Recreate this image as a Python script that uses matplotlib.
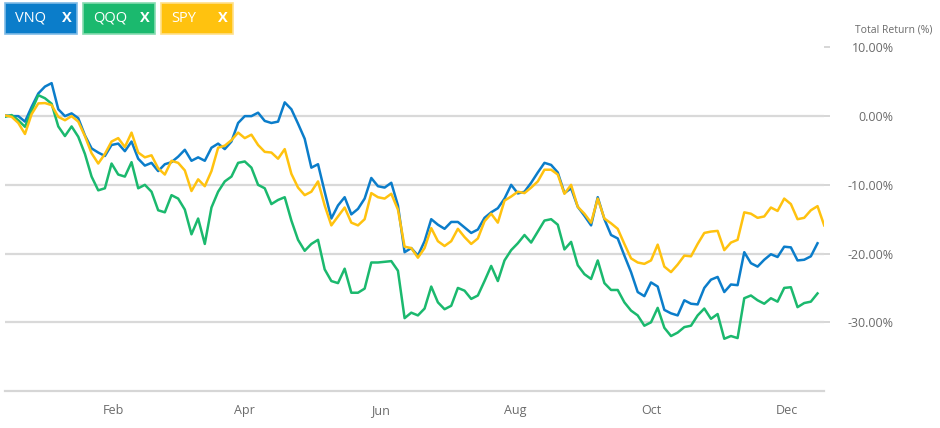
import matplotlib
matplotlib.use("Agg")
import matplotlib.pyplot as plt
from matplotlib.patches import Rectangle
import pandas as pd

# ---------------- data ----------------
start_date = "2021-12-14"
step = "3D"

vnq = [0.1, 0.0, 0.0, -0.8, 1.35, 3.3, 4.3, 4.8, 1.0, 0.0,
       0.4, -0.3, -2.8, -4.7, -5.3, -5.8, -4.2, -4.0, -5.1, -3.7,
       -6.2, -7.2, -6.8, -8.0, -7.0, -6.7, -5.9, -4.9, -6.5, -6.0,
       -6.5, -4.6, -4.0, -4.8, -3.7, -1.0, 0.0, 0.0, 0.5, -0.7,
       -1.0, -0.8, 2.0, 1.0, -1.1, -3.3, -7.5, -7.0, -11.0, -14.9,
       -13.0, -11.8, -14.3, -13.5, -12.0, -9.0, -10.2, -10.4, -9.7, -13.0,
       -19.8, -19.2, -20.3, -18.2, -15.0, -15.8, -16.4, -15.4, -15.4, -16.2,
       -17.0, -16.5, -14.8, -14.0, -13.4, -12.0, -10.0, -11.25, -11.0, -9.7,
       -8.2, -6.8, -7.1, -8.2, -11.2, -10.5, -13.2, -14.5, -15.9, -11.8,
       -15.0, -17.3, -17.8, -20.3, -22.7, -25.6, -26.2, -24.2, -24.8, -28.2,
       -28.7, -29.0, -26.8, -27.3, -27.4, -25.0, -23.8, -23.4, -25.6, -24.5,
       -24.6, -19.8, -21.4, -21.9, -20.9, -20.1, -20.5, -19.0, -19.1, -21.0,
       -20.9, -20.4, -18.5]

qqq = [-0.1, 0.15, -0.6, -1.55, 0.8, 3.05, 2.6, 1.8, -1.5, -2.9,
       -1.5, -3.0, -5.5, -8.8, -10.8, -10.5, -6.9, -8.5, -8.8, -6.7,
       -10.5, -10.0, -11.0, -13.7, -14.0, -11.5, -12.0, -13.6, -17.2, -14.9,
       -18.6, -13.3, -11.0, -9.5, -8.8, -6.8, -6.6, -7.5, -10.0, -10.5,
       -12.8, -12.2, -11.8, -15.2, -18.0, -19.6, -18.6, -18.0, -22.3, -24.0,
       -24.3, -22.2, -25.7, -25.7, -25.1, -21.3, -21.3, -21.2, -21.1, -22.5,
       -29.4, -28.6, -29.0, -28.0, -24.8, -27.1, -28.1, -27.6, -25.0, -25.4,
       -26.6, -26.1, -24.0, -21.8, -24.0, -21.0, -19.5, -18.5, -17.3, -18.4,
       -16.8, -15.2, -15.0, -15.8, -19.4, -18.3, -21.7, -23.0, -23.7, -21.0,
       -24.3, -25.3, -25.3, -27.1, -28.3, -29.0, -30.5, -30.0, -27.9, -30.8,
       -32.0, -31.5, -30.7, -30.5, -29.0, -28.0, -29.5, -28.8, -32.4, -32.0,
       -32.3, -26.5, -26.1, -26.8, -27.3, -26.5, -27.0, -25.0, -24.9, -27.8,
       -27.2, -27.0, -25.8]

spy = [0.1, -0.1, -1.0, -2.6, 0.3, 1.85, 1.9, 1.6, -0.1, -0.6,
       0.0, -0.8, -2.9, -5.4, -6.9, -5.5, -3.7, -3.2, -4.5, -2.4,
       -5.3, -6.0, -5.7, -7.6, -8.5, -6.5, -6.8, -7.9, -10.9, -9.2,
       -10.2, -8.0, -4.6, -4.3, -3.5, -2.4, -3.2, -2.7, -4.2, -5.2,
       -5.3, -6.2, -4.8, -8.4, -10.4, -11.5, -11.0, -9.5, -13.0, -15.9,
       -14.6, -13.3, -15.5, -15.9, -15.0, -11.2, -11.8, -12.0, -11.3, -13.6,
       -19.0, -19.2, -20.6, -19.2, -16.3, -18.2, -18.9, -18.2, -16.4, -17.6,
       -18.6, -17.8, -15.3, -14.2, -15.5, -12.3, -11.7, -11.0, -11.2, -10.4,
       -9.5, -7.8, -7.8, -8.5, -11.3, -10.0, -13.2, -14.2, -15.5, -12.0,
       -14.9, -15.6, -16.4, -18.6, -20.7, -21.3, -21.5, -21.0, -18.7, -21.9,
       -22.7, -21.6, -20.3, -20.4, -18.6, -17.0, -16.8, -16.7, -19.5, -18.4,
       -18.0, -14.0, -14.2, -14.8, -14.6, -13.3, -13.8, -12.0, -12.8, -15.0,
       -14.8, -13.7, -13.1, -15.9]

series_names = ["VNQ", "QQQ", "SPY"]
series_colors = ["#0b7dca", "#1bb96e", "#ffc20f"]
border_colors = ["#7fbbe6", "#86dbb0", "#ffe08a"]
y_ticks = [10, 0, -10, -20, -30]
grid_levels = [0, -10, -20, -30]
month_ticks = ["2022-02-01", "2022-04-01", "2022-06-01", "2022-08-01", "2022-10-01", "2022-12-01"]
month_labels = ["Feb", "Apr", "Jun", "Aug", "Oct", "Dec"]
axis_title = "Total Return (%)"

# ---------------- figure ----------------
W, H = 940, 428
plt.rcParams['font.family'] = ['Open Sans', 'DejaVu Sans']
fig = plt.figure(figsize=(W / 100, H / 100), dpi=100)
fig.patch.set_facecolor("white")

ax_left, ax_right, ax_top, ax_bottom = 5, 824, 47.4, 391
ax = fig.add_axes([ax_left / W, 1 - ax_bottom / H, (ax_right - ax_left) / W, (ax_bottom - ax_top) / H])
ax.set_facecolor("white")

dates = pd.date_range(start_date, periods=len(spy), freq=step)
data = [vnq, qqq, spy]
for name, vals, col in zip(series_names, data, series_colors):
    ax.plot(dates[:len(vals)], vals, color=col, lw=1.8, solid_joinstyle="round", zorder=3)

px_per_day = 2.22
x0 = pd.Timestamp(start_date)
ax.set_xlim(x0, x0 + pd.Timedelta(days=(ax_right - ax_left) / px_per_day))
ax.set_ylim(-40, 10)

for s in ax.spines.values():
    s.set_visible(False)
ax.axhline(-40, color="#d6d6d6", lw=1.6, zorder=1, clip_on=False)
for g in grid_levels:
    ax.axhline(g, color="#d9d9d9", lw=1.6, zorder=0)

ax.set_yticks(y_ticks)
ax.set_yticklabels([f"{v:.2f}%" for v in y_ticks])
ax.yaxis.tick_right()
ax.tick_params(axis="y", length=4, width=1.2, color="#cfcfcf", pad=64 * 72 / 100,
               labelsize=9, labelcolor="#6b6b6b")
for lbl in ax.get_yticklabels():
    lbl.set_horizontalalignment("right")

ax.set_xticks(pd.to_datetime(month_ticks))
ax.set_xticklabels(month_labels)
ax.tick_params(axis="x", length=0, pad=9.5, labelsize=9, labelcolor="#6b6b6b")

fig.text(932 / W, 1 - 30 / H, axis_title, ha="right", va="center", fontsize=7.5, color="#6b6b6b")

# legend buttons
box_x = [5, 83, 161]
for bx, name, col, bcol in zip(box_x, series_names, series_colors, border_colors):
    rect = Rectangle((bx / W, 1 - 34 / H), 72 / W, 31 / H, transform=fig.transFigure,
                     facecolor=col, edgecolor=bcol, lw=1.2)
    fig.add_artist(rect)
    fig.text((bx + 10) / W, 1 - 18.5 / H, name, ha="left", va="center", fontsize=10.5, color="white")
    fig.text((bx + 62) / W, 1 - 18.5 / H, "X", ha="center", va="center", fontsize=10.5,
             color="white", fontweight="bold")

fig.savefig("out.png", dpi=100, facecolor="white")
